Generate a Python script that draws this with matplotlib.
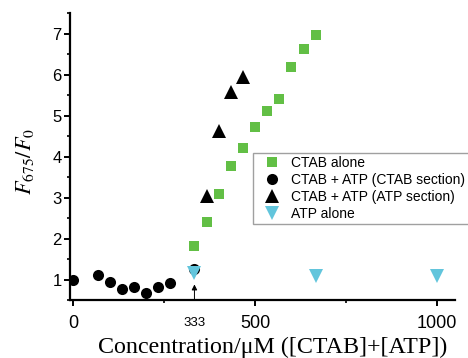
import matplotlib
matplotlib.use("Agg")
import matplotlib.pyplot as plt
from matplotlib.ticker import MultipleLocator, FixedLocator

# Data
ctab_x = [333.3, 366.7, 400, 433.3, 466.7, 500, 533.3, 566.7, 600, 633.3, 666.7]
ctab_y = [1.83, 2.40, 3.09, 3.77, 4.21, 4.73, 5.11, 5.41, 6.19, 6.64, 6.96]

mix_ctab_x = [0, 66.7, 100, 133.3, 166.7, 200, 233.3, 266.7, 333.3]
mix_ctab_y = [1.00, 1.10, 0.94, 0.77, 0.82, 0.66, 0.82, 0.91, 1.26]

mix_atp_x = [366.7, 400, 433.3, 466.7]
mix_atp_y = [3.05, 4.62, 5.59, 5.94]

atp_x = [333.3, 666.7, 1000]
atp_y = [1.16, 1.08, 1.08]

xticks = [0, 500, 1000]
yticks = [1, 2, 3, 4, 5, 6, 7]

plt.rcParams['mathtext.fontset'] = 'stix'

fig = plt.figure(figsize=(4.68, 3.58), dpi=100)
ax = fig.add_axes([70/468, 1-300/358, (455-70)/468, (300-13.3)/358])

green = '#62bf45'
cyan = '#62c5dc'

ax.plot(ctab_x, ctab_y, 's', color=green, ms=7.5, mew=0, label='CTAB alone', zorder=3)
ax.plot(mix_ctab_x, mix_ctab_y, 'o', color='black', ms=8, mew=0,
        label='CTAB + ATP (CTAB section)', zorder=3)
ax.plot(mix_atp_x, mix_atp_y, '^', color='black', ms=9.5, mew=0,
        label='CTAB + ATP (ATP section)', zorder=3)
ax.plot(atp_x, atp_y, 'v', color=cyan, ms=10, mew=0, label='ATP alone', zorder=4)

ax.set_xlim(-9, 1050)
ax.set_ylim(0.5, 7.5)

for s in ['top', 'right']:
    ax.spines[s].set_visible(False)
for s in ['left', 'bottom']:
    ax.spines[s].set_linewidth(1.6)

ax.xaxis.set_major_locator(FixedLocator(xticks))
ax.xaxis.set_minor_locator(FixedLocator([250, 750]))
ax.yaxis.set_major_locator(FixedLocator(yticks))
ax.yaxis.set_minor_locator(MultipleLocator(0.5))
ax.tick_params(which='major', direction='out', length=4, width=1.4, pad=2)
ax.tick_params(which='minor', direction='out', length=2.5, width=1.2)
ax.tick_params(axis='x', which='major', labelsize=13, pad=7)
ax.tick_params(axis='y', which='major', labelsize=12)
for lab in ax.get_xticklabels() + ax.get_yticklabels():
    lab.set_fontfamily('Liberation Sans')

ax.text(333.3, -0.08, '333', transform=ax.get_xaxis_transform(),
        ha='center', va='center', fontsize=9.5, family='Liberation Sans')
ax.annotate('', xy=(333.3, 0.88), xytext=(333.3, 0.5),
            arrowprops=dict(arrowstyle='-|>', color='black', lw=0.7,
                            mutation_scale=8, shrinkA=0, shrinkB=0))

ax.set_xlabel('Concentration/\u03bcM ([CTAB]+[ATP])', fontsize=17.3,
              family='Liberation Serif')
ax.xaxis.set_label_coords(0.525, -0.128)
ax.set_ylabel(r'$F_{675}/F_0$', fontsize=16)
ax.yaxis.set_label_coords(-0.088, 0.485)

leg = ax.legend(loc='upper left', bbox_to_anchor=(253/468, 1-152.7/358),
                bbox_transform=fig.transFigure, frameon=True, fancybox=False,
                prop={'family': 'Liberation Sans', 'size': 10},
                handletextpad=0.2, labelspacing=0.2, borderpad=0.25,
                handlelength=2.3, borderaxespad=0)
leg.get_frame().set_edgecolor('#888888')
leg.get_frame().set_linewidth(1.0)

fig.savefig('out.png', dpi=100)
